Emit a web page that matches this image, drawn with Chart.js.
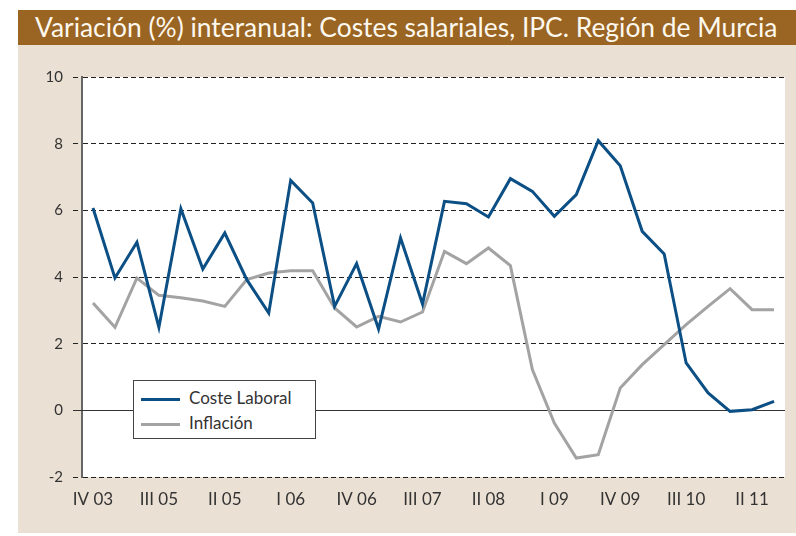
<!DOCTYPE html>
<html>
<head>
<meta charset="utf-8">
<script src="https://cdn.jsdelivr.net/npm/chart.js@4/dist/chart.umd.min.js"></script>
<style>
  body { margin: 0; background: #fff; }
  #wrap { position: relative; width: 796px; height: 536px; overflow: hidden; }
  #title {
    position: absolute; left: 18px; top: 10px; width: 778px; height: 35px;
    background: #9a6422; color: #fdf8ee;
    font-family: Lato, sans-serif; font-size: 26.4px; line-height: 35px;
    padding-left: 17px; box-sizing: border-box; white-space: nowrap;
  }
  #panel { position: absolute; left: 18px; top: 45px; width: 778px; height: 488px; background: #ebe0d4; }
  #chart1 { position: absolute; left: 0; top: 0; }
  #legend {
    position: absolute; left: 133px; top: 380px; width: 183px; height: 59px;
    box-sizing: border-box; border: 1.5px solid #444; background: #fff;
    font-family: Lato, sans-serif; font-size: 17px; color: #333;
    padding-top: 4px;
  }
  #legend .item { height: 25px; line-height: 25px; white-space: nowrap; }
  #legend .swatch { display: inline-block; width: 39px; height: 3px; margin: 0 9px 0 7px; vertical-align: middle; }
</style>
</head>
<body>
<div id="wrap">
  <div id="title">Variación (%) interanual: Costes salariales, IPC. Región de Murcia</div>
  <div id="panel"></div>
  <canvas id="chart1" width="796" height="536"></canvas>
  <div id="legend"></div>
</div>
<script>
  // trimestres IV 03 - III 11
  const categories = [
    'IV 03', 'I 04', 'II 04', 'III 04', 'IV 04', 'I 05', 'II 05', 'III 05',
    'IV 05', 'I 06', 'II 06', 'III 06', 'IV 06', 'I 07', 'II 07', 'III 07',
    'IV 07', 'I 08', 'II 08', 'III 08', 'IV 08', 'I 09', 'II 09', 'III 09',
    'IV 09', 'I 10', 'II 10', 'III 10', 'IV 10', 'I 11', 'II 11', 'III 11'
  ];
  // etiquetas del eje (una cada tres trimestres), tal como en el original
  const tickLabels = ['IV 03', 'III 05', 'II 05', 'I 06', 'IV 06', 'III 07', 'II 08', 'I 09', 'IV 09', 'III 10', 'II 11'];

  const costeLaboral = [
    6.07, 3.97, 5.04, 2.49, 6.05, 4.24, 5.32, 3.92, 2.92, 6.90,
    6.22, 3.12, 4.40, 2.44, 5.17, 3.19, 6.27, 6.20, 5.80, 6.95,
    6.57, 5.82, 6.47, 8.09, 7.34, 5.37, 4.69, 1.42, 0.52, -0.03,
    0.02, 0.27
  ];
  const inflacion = [
    3.22, 2.49, 3.97, 3.45, 3.38, 3.28, 3.12, 3.92, 4.12, 4.19,
    4.19, 3.07, 2.50, 2.82, 2.65, 2.95, 4.77, 4.40, 4.87, 4.34,
    1.22, -0.38, -1.43, -1.33, 0.67, 1.37, 1.97, 2.57, 3.12, 3.65,
    3.02, 3.02
  ];

  const azul = '#0b4f85';
  const gris = '#a3a3a3';

  const fondoYCero = {
    id: 'fondoYCero',
    beforeDraw(chart) {
      const { ctx, chartArea: a } = chart;
      ctx.save();
      ctx.fillStyle = '#fff';
      ctx.fillRect(a.left, a.top, a.right - a.left, a.bottom - a.top);
      ctx.restore();
    },
    beforeDatasetsDraw(chart) {
      const { ctx, chartArea: a, scales } = chart;
      const y0 = Math.round(scales.y.getPixelForValue(0)) + 0.5;
      ctx.save();
      ctx.strokeStyle = '#333';
      ctx.lineWidth = 1.2;
      ctx.beginPath();
      ctx.moveTo(a.left - 9, y0);
      ctx.lineTo(a.right, y0);
      ctx.stroke();
      ctx.restore();
    }
  };

  const ctx = document.getElementById('chart1').getContext('2d');

  const chart1 = new Chart(ctx, {
    type: 'line',
    data: {
      labels: categories,
      datasets: [{
        label: 'Coste Laboral',
        data: costeLaboral,
        borderColor: azul,
        borderWidth: 3,
        pointRadius: 0,
        tension: 0
      }, {
        label: 'Inflación',
        data: inflacion,
        borderColor: gris,
        borderWidth: 3,
        pointRadius: 0,
        tension: 0
      }]
    },
    options: {
      responsive: false,
      animation: false,
      layout: { padding: { left: 0, top: 77, right: 11, bottom: 0 } },
      plugins: {
        legend: { display: false },
        tooltip: { enabled: false }
      },
      scales: {
        x: {
          offset: true,
          grid: { display: false },
          border: { display: false },
          ticks: {
            autoSkip: false,
            maxRotation: 0,
            padding: 4,
            color: '#333',
            font: { family: 'Lato', size: 17 },
            callback: (v, i) => (i % 3 === 0 ? tickLabels[i / 3] : '')
          },
          afterFit: (s) => { s.height = 59; }
        },
        y: {
          min: -2,
          max: 10,
          ticks: {
            stepSize: 2,
            padding: 10,
            color: '#333',
            font: { family: 'Lato', size: 15 }
          },
          grid: {
            color: (c) => (c.tick && c.tick.value === 0 ? 'rgba(0,0,0,0)' : '#222'),
            tickColor: '#222',
            lineWidth: 1,
            tickLength: 9,
            tickBorderDash: [5, 3]
          },
          border: { color: '#666', width: 2, dash: [5, 3] },
          afterFit: (s) => { s.width = 82; }
        }
      }
    },
    plugins: [fondoYCero]
  });

  // leyenda dentro del gráfico
  const leg = document.getElementById('legend');
  chart1.data.datasets.forEach(ds => {
    const item = document.createElement('div');
    item.className = 'item';
    item.innerHTML = '<span class="swatch" style="background:' + ds.borderColor + '"></span>' + ds.label;
    leg.appendChild(item);
  });
</script>
</body>
</html>
